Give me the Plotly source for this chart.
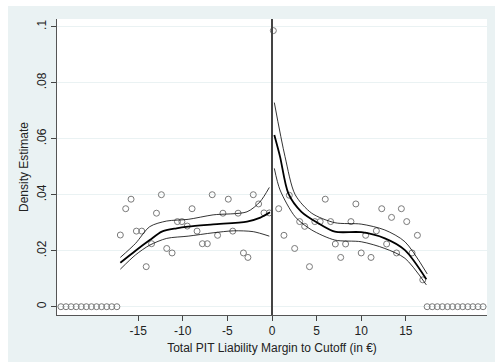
import plotly.graph_objects as go

# ---- data ----
left_x = [-23.66, -23.09, -22.52, -21.95, -21.38, -20.81, -20.24, -19.67, -19.10, -18.53, -17.96, -17.39,
          -17.0, -16.4, -15.8, -15.2, -14.6, -14.1, -13.5, -12.95, -12.4, -11.8, -11.2, -10.6, -10.1,
          -9.5, -8.96, -8.4, -7.8, -7.25, -6.7, -6.1, -5.5, -4.9, -4.4, -3.8, -3.2, -2.7, -2.1, -1.5, -0.9, -0.3]
left_y = [0]*12 + [0.0256, 0.035, 0.0384, 0.027, 0.027, 0.0143, 0.0225, 0.0334, 0.040, 0.0208, 0.0192,
          0.0304, 0.0304, 0.0288, 0.035, 0.027, 0.0225, 0.0225, 0.040, 0.0255, 0.0334, 0.0384, 0.027,
          0.0334, 0.0192, 0.0176, 0.040, 0.0367, 0.0335, 0.0335]

right_x = [0.15, 0.75, 1.34, 1.94, 2.54, 3.1, 3.66, 4.2, 4.8, 5.4, 5.97, 6.57, 7.1, 7.7, 8.25, 8.85,
           9.4, 10.0, 10.5, 11.1, 11.7, 12.3, 12.85, 13.4, 13.96, 14.5, 15.1, 15.7, 16.3, 16.9,
           17.39, 17.96, 18.53, 19.10, 19.67, 20.24, 20.81, 21.38, 21.95, 22.52, 23.09, 23.66]
right_y = [0.0986, 0.035, 0.0255, 0.0398, 0.0208, 0.0304, 0.0287, 0.0143, 0.0304, 0.0304, 0.0384,
           0.0304, 0.0224, 0.0176, 0.0224, 0.0304, 0.0367, 0.0192, 0.0255, 0.0176, 0.0271, 0.035,
           0.0224, 0.0319, 0.0192, 0.035, 0.0304, 0.0192, 0.0255, 0.0096] + [0]*12

fitL_x = [-17.0, -15.3, -13.7, -12.35, -10.7, -9.4, -6.6, -2.8, -1.3, -0.22]
fitL_y = [0.0157, 0.0200, 0.0238, 0.0268, 0.0280, 0.0286, 0.0294, 0.0304, 0.0318, 0.0337]
ciLhi_x = [-17.0, -15.3, -13.7, -11.8, -9.4, -6.6, -2.8, -1.34, -0.3]
ciLhi_y = [0.0176, 0.0226, 0.0286, 0.0306, 0.0312, 0.0328, 0.0339, 0.0375, 0.0426]
ciLlo_x = [-17.0, -15.3, -13.7, -11.8, -9.4, -6.6, -4.3, -2.1, -0.3]
ciLlo_y = [0.0134, 0.0185, 0.0220, 0.0244, 0.0252, 0.0264, 0.0271, 0.0268, 0.0252]

fitR_x = [0.26, 0.9, 1.83, 3.3, 5.2, 7.05, 10.0, 12.65, 14.9, 17.3]
fitR_y = [0.0613, 0.0536, 0.0405, 0.0339, 0.0298, 0.0268, 0.0266, 0.0244, 0.0202, 0.0098]
ciRhi_x = [0.26, 1.46, 2.6, 4.45, 7.05, 10.0, 12.65, 14.9, 17.4]
ciRhi_y = [0.0729, 0.0536, 0.0400, 0.0334, 0.0300, 0.0295, 0.0274, 0.0232, 0.0117]
ciRlo_x = [0.26, 0.9, 2.6, 4.45, 7.05, 10.0, 12.65, 14.9, 17.3]
ciRlo_y = [0.0494, 0.0417, 0.0321, 0.0274, 0.0238, 0.0232, 0.0208, 0.0173, 0.0078]

x_ticks = [-15, -10, -5, 0, 5, 10, 15]
x_ticktext = ["-15", "-10", "-5", "0", "5", "10", "15"]
y_ticks = [0, 0.02, 0.04, 0.06, 0.08, 0.1]
y_ticktext = ["0", ".02", ".04", ".06", ".08", ".1"]

BG = "#EAF2F3"
FONT = "Liberation Sans, Arial, sans-serif"

fig = go.Figure()
marker = dict(symbol="circle-open", size=6, color="#7a7a7a", line=dict(width=1, color="#7a7a7a"))
fig.add_trace(go.Scatter(x=left_x, y=left_y, mode="markers", marker=marker))
fig.add_trace(go.Scatter(x=right_x, y=right_y, mode="markers", marker=marker))

for xs, ys, w in [(ciLhi_x, ciLhi_y, 0.8), (ciLlo_x, ciLlo_y, 0.8), (fitL_x, fitL_y, 1.8),
                  (ciRhi_x, ciRhi_y, 0.8), (ciRlo_x, ciRlo_y, 0.8), (fitR_x, fitR_y, 1.8)]:
    fig.add_trace(go.Scatter(x=xs, y=ys, mode="lines",
                             line=dict(color="black", width=w, shape="spline", smoothing=0.8)))

# vertical cutoff line
fig.add_shape(type="line", xref="x", yref="paper", x0=0, x1=0, y0=0, y1=1,
              line=dict(color="#444444", width=2))
# white strips at top and left of image
fig.add_shape(type="rect", xref="paper", yref="paper", x0=-0.2, x1=1.1, y0=(315 - 6) / 296, y1=1.2,
              fillcolor="white", line=dict(width=0), layer="below")
fig.add_shape(type="rect", xref="paper", yref="paper", x0=-0.2, x1=(8 - 57) / 430, y0=-0.3, y1=1.2,
              fillcolor="white", line=dict(width=0), layer="below")

fig.update_layout(
    width=495, height=362,
    margin=dict(l=57, r=8, t=19, b=47),
    paper_bgcolor=BG, plot_bgcolor="white",
    showlegend=False,
    font=dict(family=FONT, size=12, color="#222222"),
)
fig.update_xaxes(
    range=[-24.1, 24.1], tickvals=x_ticks, ticktext=x_ticktext, ticks="outside", ticklen=5, tickcolor="#444",
    showline=True, linecolor="#555", linewidth=1, showgrid=False, zeroline=False,
    title=dict(text="Total PIT Liability Margin to Cutoff (in €)", standoff=6, font=dict(size=12)),
    tickfont=dict(size=12),
)
fig.update_yaxes(
    range=[-0.00296, 0.10275], tickvals=y_ticks, ticktext=y_ticktext, tickangle=-90,
    ticks="outside", ticklen=5, tickcolor="#444",
    showline=True, linecolor="#555", linewidth=1, showgrid=True, gridcolor=BG, gridwidth=1,
    zeroline=False,
    title=dict(text="Density Estimate", standoff=4, font=dict(size=12)),
    tickfont=dict(size=12),
)

fig.write_html("out.html")
